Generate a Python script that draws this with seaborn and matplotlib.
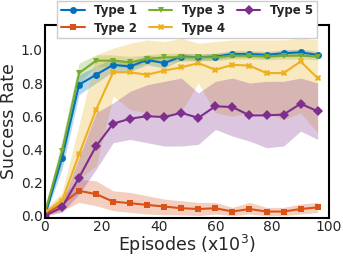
import numpy as np
import pandas as pd
import matplotlib
matplotlib.use('Agg')
import matplotlib.pyplot as plt
import seaborn as sns

# episodes (x10^3)
episodes = [0, 6, 12, 18, 24, 30, 36, 42, 48, 54, 60, 66, 72, 78, 84, 90, 96]

names = ['Type 1', 'Type 2', 'Type 3', 'Type 4', 'Type 5']
colors = ['#0072BD', '#D95319', '#77AC30', '#EDB120', '#7E2F8E']
markers = ['o', 's', 'v', 'X', 'D']

type1 = [0.0, 0.35, 0.79, 0.85, 0.91, 0.90, 0.94, 0.92, 0.96, 0.955, 0.96, 0.975, 0.975, 0.97, 0.98, 0.985, 0.97]
type1_lo = [0.0, 0.28, 0.73, 0.80, 0.87, 0.87, 0.91, 0.89, 0.94, 0.935, 0.94, 0.955, 0.955, 0.95, 0.96, 0.965, 0.95]
type1_hi = [0.02, 0.42, 0.85, 0.90, 0.95, 0.93, 0.97, 0.95, 0.98, 0.975, 0.98, 0.995, 0.995, 0.99, 1.0, 1.005, 0.99]

type2 = [0.01, 0.07, 0.15, 0.13, 0.085, 0.075, 0.065, 0.055, 0.045, 0.04, 0.045, 0.025, 0.04, 0.025, 0.025, 0.04, 0.05]
type2_lo = [0.0, 0.03, 0.08, 0.06, 0.03, 0.02, 0.01, 0.005, 0.005, 0.0, 0.01, 0.0, 0.01, 0.0, 0.0, 0.01, 0.02]
type2_hi = [0.03, 0.12, 0.22, 0.21, 0.15, 0.14, 0.12, 0.10, 0.09, 0.08, 0.08, 0.05, 0.08, 0.05, 0.05, 0.07, 0.08]

type3 = [0.02, 0.39, 0.86, 0.935, 0.935, 0.925, 0.945, 0.955, 0.955, 0.955, 0.955, 0.965, 0.965, 0.96, 0.965, 0.965, 0.96]
type3_lo = [0.0, 0.32, 0.80, 0.90, 0.90, 0.89, 0.92, 0.93, 0.93, 0.935, 0.935, 0.945, 0.945, 0.94, 0.945, 0.945, 0.94]
type3_hi = [0.04, 0.46, 0.92, 0.97, 0.97, 0.96, 0.97, 0.98, 0.98, 0.975, 0.975, 0.985, 0.985, 0.98, 0.985, 0.985, 0.98]

type4 = [0.02, 0.09, 0.37, 0.64, 0.865, 0.865, 0.85, 0.875, 0.895, 0.92, 0.88, 0.91, 0.905, 0.86, 0.86, 0.93, 0.83]
type4_lo = [0.0, 0.05, 0.22, 0.30, 0.72, 0.64, 0.62, 0.60, 0.63, 0.80, 0.62, 0.60, 0.62, 0.62, 0.58, 0.62, 0.50]
type4_hi = [0.04, 0.14, 0.55, 0.97, 1.01, 1.04, 1.06, 1.05, 1.07, 1.04, 1.05, 1.06, 1.06, 1.06, 1.06, 1.07, 1.06]

type5 = [0.0, 0.05, 0.23, 0.42, 0.555, 0.585, 0.60, 0.595, 0.62, 0.59, 0.66, 0.655, 0.605, 0.605, 0.61, 0.675, 0.63]
type5_lo = [0.0, 0.02, 0.13, 0.28, 0.44, 0.46, 0.44, 0.42, 0.42, 0.43, 0.52, 0.48, 0.45, 0.41, 0.42, 0.51, 0.46]
type5_hi = [0.0, 0.08, 0.35, 0.62, 0.68, 0.75, 0.79, 0.81, 0.83, 0.74, 0.81, 0.83, 0.80, 0.81, 0.81, 0.83, 0.80]

means = [type1, type2, type3, type4, type5]
lows = [type1_lo, type2_lo, type3_lo, type4_lo, type5_lo]
highs = [type1_hi, type2_hi, type3_hi, type4_hi, type5_hi]

rows = []
for name, m in zip(names, means):
    for e, v in zip(episodes, m):
        rows.append({'Episodes': e, 'Success Rate': v, 'Type': name})
df = pd.DataFrame(rows)

sns.set_style('white')
plt.rcParams['font.family'] = ['DejaVu Sans']

fig = plt.figure(figsize=(3.43, 2.56), dpi=100)
ax = fig.add_axes([45 / 343, 1 - 218 / 256, 284 / 343, 193 / 256])

for name, lo, hi, c in zip(names, lows, highs, colors):
    ax.fill_between(episodes, lo, hi, color=c, alpha=0.28, linewidth=0)

sns.lineplot(data=df, x='Episodes', y='Success Rate', hue='Type', style='Type',
             palette=dict(zip(names, colors)), markers=dict(zip(names, markers)),
             dashes=False, linewidth=1.5, markersize=5, markeredgewidth=0, ax=ax)

ax.set_xlim(0, 100)
ax.set_ylim(-0.014, 1.15)
ax.set_xticks([0, 20, 40, 60, 80, 100])
ax.set_yticks([0.0, 0.2, 0.4, 0.6, 0.8, 1.0])
ax.set_yticklabels(['0.0', '0.2', '0.4', '0.6', '0.8', '1.0'])
ax.tick_params(direction='in', labelsize=10, length=3, width=1, pad=1.5)
for s in ax.spines.values():
    s.set_color('black')
    s.set_linewidth(1.5)
ax.set_xlabel('Episodes (x10$^3$)', fontsize=12.5, labelpad=-1)
ax.set_ylabel('Success Rate', fontsize=12.5, labelpad=2)

ax.legend(loc='upper center', bbox_to_anchor=(0.5, 1.125), ncol=3, frameon=True,
          prop={'weight': 'bold', 'size': 8.5}, borderaxespad=0, handlelength=2.0,
          columnspacing=1.0, handletextpad=0.8, labelspacing=0.35,
          borderpad=0.3, fancybox=False, framealpha=1, edgecolor='#cccccc')

fig.savefig('out.png', dpi=100)
